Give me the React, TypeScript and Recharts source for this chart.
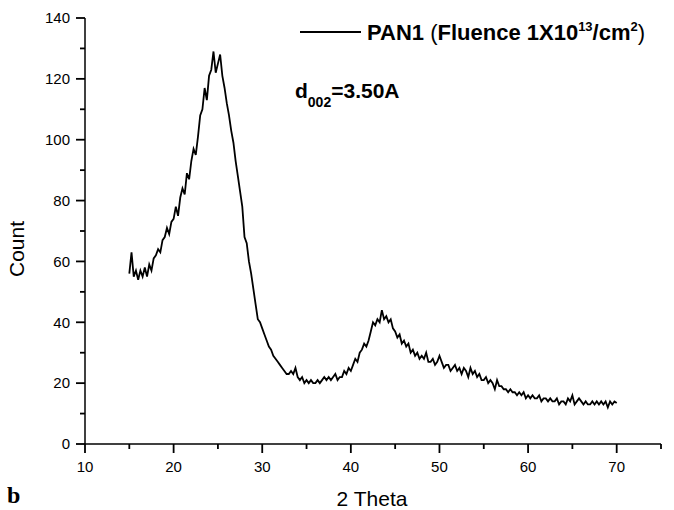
import { LineChart, Line, XAxis, YAxis } from "recharts";

// XRD pattern, 2 theta (deg) vs count, every 0.25 deg
const theta = [
    15, 15.25, 15.5, 15.75, 16, 16.25, 16.5, 16.75, 17, 17.25, 17.5, 17.75,
    18, 18.25, 18.5, 18.75, 19, 19.25, 19.5, 19.75, 20, 20.25, 20.5, 20.75,
    21, 21.25, 21.5, 21.75, 22, 22.25, 22.5, 22.75, 23, 23.25, 23.5, 23.75,
    24, 24.25, 24.5, 24.75, 25, 25.25, 25.5, 25.75, 26, 26.25, 26.5, 26.75,
    27, 27.25, 27.5, 27.75, 28, 28.25, 28.5, 28.75, 29, 29.25, 29.5, 29.75,
    30, 30.25, 30.5, 30.75, 31, 31.25, 31.5, 31.75, 32, 32.25, 32.5, 32.75,
    33, 33.25, 33.5, 33.75, 34, 34.25, 34.5, 34.75, 35, 35.25, 35.5, 35.75,
    36, 36.25, 36.5, 36.75, 37, 37.25, 37.5, 37.75, 38, 38.25, 38.5, 38.75,
    39, 39.25, 39.5, 39.75, 40, 40.25, 40.5, 40.75, 41, 41.25, 41.5, 41.75,
    42, 42.25, 42.5, 42.75, 43, 43.25, 43.5, 43.75, 44, 44.25, 44.5, 44.75,
    45, 45.25, 45.5, 45.75, 46, 46.25, 46.5, 46.75, 47, 47.25, 47.5, 47.75,
    48, 48.25, 48.5, 48.75, 49, 49.25, 49.5, 49.75, 50, 50.25, 50.5, 50.75,
    51, 51.25, 51.5, 51.75, 52, 52.25, 52.5, 52.75, 53, 53.25, 53.5, 53.75,
    54, 54.25, 54.5, 54.75, 55, 55.25, 55.5, 55.75, 56, 56.25, 56.5, 56.75,
    57, 57.25, 57.5, 57.75, 58, 58.25, 58.5, 58.75, 59, 59.25, 59.5, 59.75,
    60, 60.25, 60.5, 60.75, 61, 61.25, 61.5, 61.75, 62, 62.25, 62.5, 62.75,
    63, 63.25, 63.5, 63.75, 64, 64.25, 64.5, 64.75, 65, 65.25, 65.5, 65.75,
    66, 66.25, 66.5, 66.75, 67, 67.25, 67.5, 67.75, 68, 68.25, 68.5, 68.75,
    69, 69.25, 69.5, 69.75, 70,
];

const counts = [
    56, 63, 55, 57, 54, 57, 55, 58, 55, 59, 57, 61,
    62, 64, 63, 67, 68, 71, 69, 73, 74, 78, 75, 81,
    84, 82, 89, 87, 93, 97, 95, 101, 108, 110, 117, 113,
    121, 123, 129, 122, 125, 128, 121, 117, 112, 108, 103, 99,
    93, 88, 83, 78, 68, 66, 60, 56, 51, 46, 41, 40,
    38, 36, 34, 32, 31, 29, 28, 27, 26, 25, 24, 23,
    23, 24, 23, 25, 22, 21, 22, 20, 21, 20, 21, 20,
    20, 21, 20, 21, 22, 21, 22, 21, 22, 23, 21, 22,
    22, 24, 23, 25, 24, 26, 28, 27, 30, 31, 33, 32,
    34, 37, 40, 39, 41, 40, 44, 41, 42, 40, 41, 38,
    37, 35, 36, 33, 34, 32, 33, 30, 31, 29, 30, 28,
    29, 28, 30, 27, 27, 28, 26, 27, 29, 27, 25, 26,
    26, 24, 25, 26, 24, 25, 23, 25, 24, 22, 25, 23,
    24, 22, 23, 21, 21, 22, 20, 21, 20, 18, 21, 19,
    19, 18, 18, 17, 18, 17, 17, 16, 17, 16, 17, 15,
    16, 15, 16, 15, 15, 16, 14, 15, 15, 14, 15, 14,
    14, 15, 13, 14, 14, 13, 15, 14, 16, 13, 14, 15,
    14, 13, 14, 13, 13, 14, 13, 14, 13, 14, 13, 14,
    12, 14, 13, 14, 13.5,
];

const xMajorTicks = [10, 20, 30, 40, 50, 60, 70];
const xMinorTicks = [15, 25, 35, 45, 55, 65, 75];
const yMajorTicks = [0, 20, 40, 60, 80, 100, 120, 140];
const yMinorTicks = [10, 30, 50, 70, 90, 110, 130];

const data = theta.map((t, i) => ({ theta: t, count: counts[i] }));
const xTicks = [...xMajorTicks, ...xMinorTicks].sort((a, b) => a - b);
const yTicks = [...yMajorTicks, ...yMinorTicks].sort((a, b) => a - b);

const font = "Arial, 'Liberation Sans', sans-serif";
const MAJOR = 9;
const MINOR = 5;
const GAP_X = 8;
const GAP_Y = 6;
const TW = 1.8;

// one axis per side; the tick renderer draws a long tick + label for majors, a short tick for minors
const XTick = (p: any) => {
    const v = p.payload.value;
    const y0 = p.y - GAP_X - MAJOR; // axis line
    if (!xMajorTicks.includes(v)) {
        return <line x1={p.x} x2={p.x} y1={y0} y2={y0 + MINOR} stroke="#000" strokeWidth={TW} />;
    }
    return (
        <g>
            <line x1={p.x} x2={p.x} y1={y0} y2={y0 + MAJOR} stroke="#000" strokeWidth={TW} />
            <text x={p.x} y={p.y} dy="0.71em" textAnchor="middle" fontSize={15} fontFamily={font} fill="#000">
                {v}
            </text>
        </g>
    );
};

const YTick = (p: any) => {
    const v = p.payload.value;
    const x0 = p.x + GAP_Y + MAJOR; // axis line
    if (!yMajorTicks.includes(v)) {
        return <line x1={x0 - MINOR} x2={x0} y1={p.y} y2={p.y} stroke="#000" strokeWidth={TW} />;
    }
    return (
        <g>
            <line x1={x0 - MAJOR} x2={x0} y1={p.y} y2={p.y} stroke="#000" strokeWidth={TW} />
            <text x={p.x} y={p.y} dy="0.355em" textAnchor="end" fontSize={15} fontFamily={font} fill="#000">
                {v}
            </text>
        </g>
    );
};

export default function App() {
    return (
        <div style={{ position: "absolute", left: 0, top: 0, width: 674, height: 510, background: "#fff" }}>
            <LineChart width={674} height={510} data={data} margin={{ top: 18, right: 13, bottom: 36, left: 25 }}>
                <XAxis
                    dataKey="theta"
                    type="number"
                    domain={[10, 75]}
                    ticks={xTicks}
                    interval={0}
                    height={30}
                    axisLine={{ stroke: "#000", strokeWidth: 1.5 }}
                    tickLine={false}
                    tickSize={MAJOR}
                    tickMargin={GAP_X}
                    tick={XTick}
                />
                <YAxis
                    type="number"
                    domain={[0, 140]}
                    ticks={yTicks}
                    interval={0}
                    width={60}
                    axisLine={{ stroke: "#000", strokeWidth: 1.5 }}
                    tickLine={false}
                    tickSize={MAJOR}
                    tickMargin={GAP_Y}
                    tick={YTick}
                />
                <Line
                    type="linear"
                    dataKey="count"
                    stroke="#000"
                    strokeWidth={1.8}
                    dot={false}
                    isAnimationActive={false}
                />
            </LineChart>
            <svg
                width={674}
                height={510}
                style={{ position: "absolute", left: 0, top: 0, pointerEvents: "none" }}
            >
                {/* legend */}
                <line x1={300} y1={32} x2={361} y2={32} stroke="#000" strokeWidth={1.8} />
                <text x={367} y={40} fontSize={22} fontWeight="bold" fontFamily={font} fill="#000">
                    PAN1 <tspan fontWeight="normal">(</tspan>Fluence 1X10
                    <tspan dy={-9} fontSize={13}>13</tspan>
                    <tspan dy={9}>/cm</tspan>
                    <tspan dy={-9} fontSize={13}>2</tspan>
                    <tspan dy={9} fontWeight="normal">)</tspan>
                </text>
                {/* annotation */}
                <text x={295} y={98} fontSize={21} fontWeight="bold" fontFamily={font} fill="#000">
                    d<tspan dy={9} fontSize={14}>002</tspan>
                    <tspan dy={-9}>=3.50A</tspan>
                </text>
                {/* axis titles */}
                <text x={372} y={506} fontSize={21} textAnchor="middle" fontFamily={font} fill="#000">
                    2 Theta
                </text>
                <text
                    transform="translate(24,249) rotate(-90)"
                    fontSize={21}
                    textAnchor="middle"
                    fontFamily={font}
                    fill="#000"
                >
                    Count
                </text>
                <text x={7} y={503} fontSize={24} fontWeight="bold" fontFamily="'Liberation Serif', 'Times New Roman', serif" fill="#000">
                    b
                </text>
            </svg>
        </div>
    );
}
